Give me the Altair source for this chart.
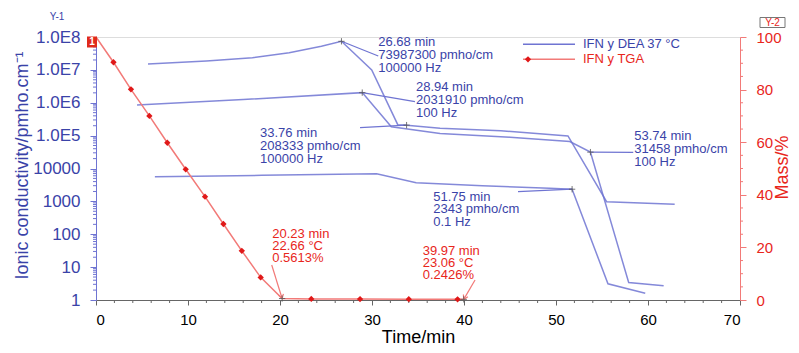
import altair as alt
import pandas as pd

# ---------------- data ----------------
# DEA (ionic conductivity, log axis) – three frequencies
dea_100k_t = [5.65, 12, 17, 21, 24.5, 26.68, 29.97, 32.8, 33.76, 37.4, 44, 51.3, 55.5, 62.9]
dea_100k_v = [1.5e7, 1.86e7, 2.34e7, 3.3e7, 5.2e7, 73987300, 1.0e7, 2.15e5, 208333, 1.68e5, 1.41e5, 9.8e4, 980, 815]
dea_100_t = [4.46, 16, 28.94, 32.1, 37.4, 45, 51.5, 53.74, 57.9, 61.7]
dea_100_v = [8.5e5, 1.25e6, 2031910, 1.86e5, 1.17e5, 9.0e4, 6.6e4, 31458, 3.4, 2.7]
dea_01_t = [6.4, 18, 30.5, 34.8, 42, 49.3, 51.75, 55.65, 59.7]
dea_01_v = [5600, 6200, 6900, 3700, 3000, 2500, 2343, 3.1, 1.6]

# TGA (mass %, right axis)
tga_t = [0, 1.9, 3.8, 5.8, 7.75, 9.75, 11.85, 13.85, 15.85, 17.9, 20.23, 23.4, 28.7, 34.0, 39.3, 39.97]
tga_m = [100, 90.4, 80.1, 70.0, 59.8, 49.7, 39.3, 28.9, 18.7, 8.6, 0.5613, 0.4, 0.35, 0.3, 0.25, 0.2426]
tga_marker_idx = [1, 2, 3, 4, 5, 6, 7, 8, 9, 11, 12, 13, 14]

# blue annotations (first-line baseline position, leader start, target)
blue_ann_text = ["26.68 min\n73987300 pmho/cm\n100000 Hz",
                 "28.94 min\n2031910 pmho/cm\n100 Hz",
                 "33.76 min\n208333 pmho/cm\n100000 Hz",
                 "53.74 min\n31458 pmho/cm\n100 Hz",
                 "51.75 min\n2343 pmho/cm\n0.1 Hz"]
blue_ann_t = [30.68, 34.78, 17.83, 58.51, 36.66]
blue_ann_v = [5.21e7, 2.23e6, 8.89e4, 7.21e4, 1057]
blue_lead_t1 = [30.68, 34.67, 28.7, 58.4, 45.87]
blue_lead_v1 = [2.64e7, 1.08e6, 1.74e5, 3.11e4, 1968]
blue_lead_t2 = [26.68, 28.94, 33.76, 53.74, 51.75]
blue_lead_v2 = [73987300, 2031910, 208333, 31458, 2343]

# red annotations
red_ann_text = ["20.23 min\n22.66 °C\n0.5613%", "39.97 min\n23.06 °C\n0.2426%"]
red_ann_t = [19.16, 35.51]
red_ann_m = [23.46, 17.26]
red_lead_t1 = [19.1, 41.2]
red_lead_m1 = [13.3, 7.6]
red_lead_t2 = [20.23, 39.97]
red_lead_m2 = [0.5613, 0.2426]
red_arrow_angle = [344.4, 27.4]

x_ticks = [0, 10, 20, 30, 40, 50, 60, 70]
yl_ticks = [1, 10, 100, 1000, 10000, 1e5, 1e6, 1e7, 1e8]
yr_ticks = [0, 20, 40, 60, 80, 100]

# ---------------- style ----------------
FONT = "Liberation Sans"
BLUE_TXT = "#3a43a8"
BLUE_LINE = "#6f74d2"
RED_TXT = "#e8261c"
RED_LINE = "#f27a78"
RED_MK = "#e01818"
W, H = 644, 263

x_scale = alt.Scale(domain=[0, 70], nice=False, zero=False)
yl_scale = alt.Scale(type="log", domain=[1, 1e8], nice=False)
yr_scale = alt.Scale(domain=[0, 100], nice=False, zero=False)

x_axis = alt.Axis(values=x_ticks, title="Time/min", labelFontSize=15, titleFontSize=18,
                  titleFontWeight="normal", labelColor="black", titleColor="black",
                  domainColor="#666666", tickColor="#666666", tickSize=5, labelPadding=7,
                  titlePadding=1, grid=False, labelFont=FONT, titleFont=FONT)
yl_axis = alt.Axis(values=yl_ticks, orient="left",
                   labelExpr="datum.value >= 100000 ? '1.0E' + format(log(datum.value)/LN10, '.0f') : format(datum.value, 'd')",
                   labelFontSize=17, labelColor=BLUE_TXT, domainColor=BLUE_LINE, tickColor=BLUE_LINE,
                   tickSize=6, labelPadding=10, grid=False, labelFont=FONT,
                   title="Ionic conductivity/pmho.cm⁻¹", titleColor=BLUE_TXT, titleFontSize=18,
                   titleFontWeight="normal", titleFont=FONT, titleAngle=270, titleX=-74, titleY=128,
                   titleAlign="center", titleBaseline="middle")
yr_axis = alt.Axis(values=yr_ticks, orient="right", labelFontSize=15, labelColor=RED_TXT,
                   domainColor=RED_LINE, tickColor=RED_LINE, tickSize=6, labelPadding=10, grid=False,
                   labelFont=FONT, title="Mass/%", titleColor=RED_TXT, titleFontSize=18,
                   titleFontWeight="normal", titleFont=FONT, titleAngle=270, titleX=42, titleY=130,
                   titleAlign="center", titleBaseline="middle")


def X(f):
    return alt.X(f, type="quantitative", scale=x_scale, axis=x_axis)


def YL(f):
    return alt.Y(f, type="quantitative", scale=yl_scale, axis=yl_axis)


def YR(f):
    return alt.Y(f, type="quantitative", scale=yr_scale, axis=yr_axis)


# ---------------- tables ----------------
rows = []
for name, ts, vs in [("100000 Hz", dea_100k_t, dea_100k_v), ("100 Hz", dea_100_t, dea_100_v),
                     ("0.1 Hz", dea_01_t, dea_01_v)]:
    for i, (t, v) in enumerate(zip(ts, vs)):
        rows.append({"curve": name, "t": t, "v": v, "o": i})
dea = pd.DataFrame(rows)

tga = pd.DataFrame({"t": tga_t, "m": tga_m, "o": list(range(len(tga_t)))})
tga_mk = tga.iloc[tga_marker_idx]

blue_ann = pd.DataFrame({"t": blue_ann_t, "v": blue_ann_v, "txt": blue_ann_text})
blue_lead = pd.DataFrame({"t1": blue_lead_t1, "v1": blue_lead_v1, "t2": blue_lead_t2, "v2": blue_lead_v2})
red_ann = pd.DataFrame({"t": red_ann_t, "m": red_ann_m, "txt": red_ann_text})
red_lead = pd.DataFrame({"t1": red_lead_t1, "m1": red_lead_m1, "t2": red_lead_t2, "m2": red_lead_m2,
                         "ang": red_arrow_angle})

minor_l = pd.DataFrame({"v": [k * 10 ** e for e in range(8) for k in range(2, 10)]})
minor_r = pd.DataFrame({"m": [m for m in range(5, 100, 5) if m % 20]})
minor_x = pd.DataFrame({"t": [t for t in range(2, 70, 2) if t % 10]})
one = pd.DataFrame({"a": [0]})

CROSS = "M-1,0L1,0M0,-1L0,1"

# ---------------- left (DEA) layer ----------------
dea_line = alt.Chart(dea).mark_line(color=BLUE_LINE, strokeWidth=1.5, opacity=0.85).encode(
    x=X("t"), y=YL("v"), detail="curve:N", order="o:Q")
l_minor = alt.Chart(minor_l).mark_rule(color=BLUE_LINE).encode(
    y=YL("v"), x=alt.value(-3), x2=alt.value(0))
x_minor = alt.Chart(minor_x).mark_rule(color="#666666").encode(
    x=X("t"), y=alt.value(H), y2=alt.value(H + 3))
b_lead = alt.Chart(blue_lead).mark_rule(color=BLUE_LINE, strokeWidth=1.2).encode(
    x=X("t1"), y=YL("v1"), x2="t2:Q", y2="v2:Q")
b_cross = alt.Chart(blue_lead).mark_point(shape=CROSS, filled=False, color="#555555", size=40,
                                          strokeWidth=1, opacity=0.8).encode(x=X("t2"), y=YL("v2"))
b_text = alt.Chart(blue_ann).mark_text(align="left", baseline="alphabetic", lineBreak="\n",
                                       lineHeight=12.7, fontSize=13, font=FONT, color=BLUE_TXT).encode(
    x=X("t"), y=YL("v"), text="txt:N")
leg_b_line = alt.Chart(one).mark_rule(color=BLUE_LINE, strokeWidth=1.5).encode(
    x=alt.value(427), x2=alt.value(479), y=alt.value(7.3))
leg_b_txt = alt.Chart(one).mark_text(text="IFN y DEA 37 °C", align="left", baseline="middle",
                                     fontSize=13, font=FONT, color=BLUE_TXT).encode(
    x=alt.value(487), y=alt.value(7.3))
y1_txt = alt.Chart(one).mark_text(text="Y-1", align="center", baseline="middle", fontSize=10,
                                  font=FONT, color=BLUE_TXT).encode(x=alt.value(-39), y=alt.value(-20))

left = alt.layer(dea_line, l_minor, x_minor, b_lead, b_cross, b_text, leg_b_line, leg_b_txt, y1_txt)

# ---------------- right (TGA) layer ----------------
tga_line = alt.Chart(tga).mark_line(color=RED_LINE, strokeWidth=1.5).encode(
    x=X("t"), y=YR("m"), order="o:Q")
tga_pts = alt.Chart(tga_mk).mark_point(shape="diamond", filled=True, color=RED_MK, size=40,
                                       opacity=1).encode(x=X("t"), y=YR("m"))
r_minor = alt.Chart(minor_r).mark_rule(color=RED_LINE).encode(
    y=YR("m"), x=alt.value(W), x2=alt.value(W + 3))
r_lead = alt.Chart(red_lead).mark_rule(color=RED_LINE, strokeWidth=1.2).encode(
    x=X("t1"), y=YR("m1"), x2="t2:Q", y2="m2:Q")
r_arrow = alt.Chart(red_lead).mark_point(shape="M-0.6,-1L0,0L0.6,-1", filled=False, color=RED_LINE,
                                         size=70, strokeWidth=1.2, opacity=1).encode(
    x=X("t2"), y=YR("m2"), angle=alt.Angle("ang:Q", scale=None))
r_cross = alt.Chart(red_lead).mark_point(shape=CROSS, filled=False, color="#555555", size=40,
                                         strokeWidth=1, opacity=0.8).encode(x=X("t2"), y=YR("m2"))
r_text = alt.Chart(red_ann).mark_text(align="left", baseline="alphabetic", lineBreak="\n",
                                      lineHeight=12, fontSize=13, font=FONT, color=RED_TXT).encode(
    x=X("t"), y=YR("m"), text="txt:N")
leg_r_line = alt.Chart(one).mark_rule(color=RED_LINE, strokeWidth=1.5).encode(
    x=alt.value(427), x2=alt.value(479), y=alt.value(22.3))
leg_r_pt = alt.Chart(one).mark_point(shape="diamond", filled=True, color=RED_MK, size=40, opacity=1).encode(
    x=alt.value(432), y=alt.value(22.3))
leg_r_txt = alt.Chart(one).mark_text(text="IFN y TGA", align="left", baseline="middle",
                                     fontSize=13, font=FONT, color=RED_TXT).encode(
    x=alt.value(487), y=alt.value(22.3))
sq = alt.Chart(one).mark_rect(color="#e02a1c").encode(
    x=alt.value(-9), x2=alt.value(1), y=alt.value(-0.5), y2=alt.value(10.5))
sq_txt = alt.Chart(one).mark_text(text="1", align="center", baseline="middle", fontSize=10,
                                  fontWeight="bold", font=FONT, color="white").encode(
    x=alt.value(-4), y=alt.value(5))
y2_box = alt.Chart(one).mark_rect(fill="white", stroke="#777777", strokeWidth=1).encode(
    x=alt.value(664), x2=alt.value(689), y=alt.value(-19.5), y2=alt.value(-9.5))
y2_txt = alt.Chart(one).mark_text(text="Y-2", align="center", baseline="middle", fontSize=10,
                                  font=FONT, color=RED_TXT).encode(x=alt.value(676.5), y=alt.value(-14.5))

right = alt.layer(tga_line, tga_pts, r_minor, r_lead, r_arrow, r_cross, r_text,
                  leg_r_line, leg_r_pt, leg_r_txt, sq, sq_txt, y2_box, y2_txt)

chart = alt.layer(left, right).resolve_scale(y="independent").resolve_axis(x="shared").properties(
    width=W, height=H,
    autosize=alt.AutoSizeParams(type="none"),
    padding={"left": 88, "top": 29, "right": 51, "bottom": 45},
).configure_view(stroke="#aaaaaa").configure(font=FONT)

chart.save("out.html", embed_options={"renderer": "svg", "actions": False})
